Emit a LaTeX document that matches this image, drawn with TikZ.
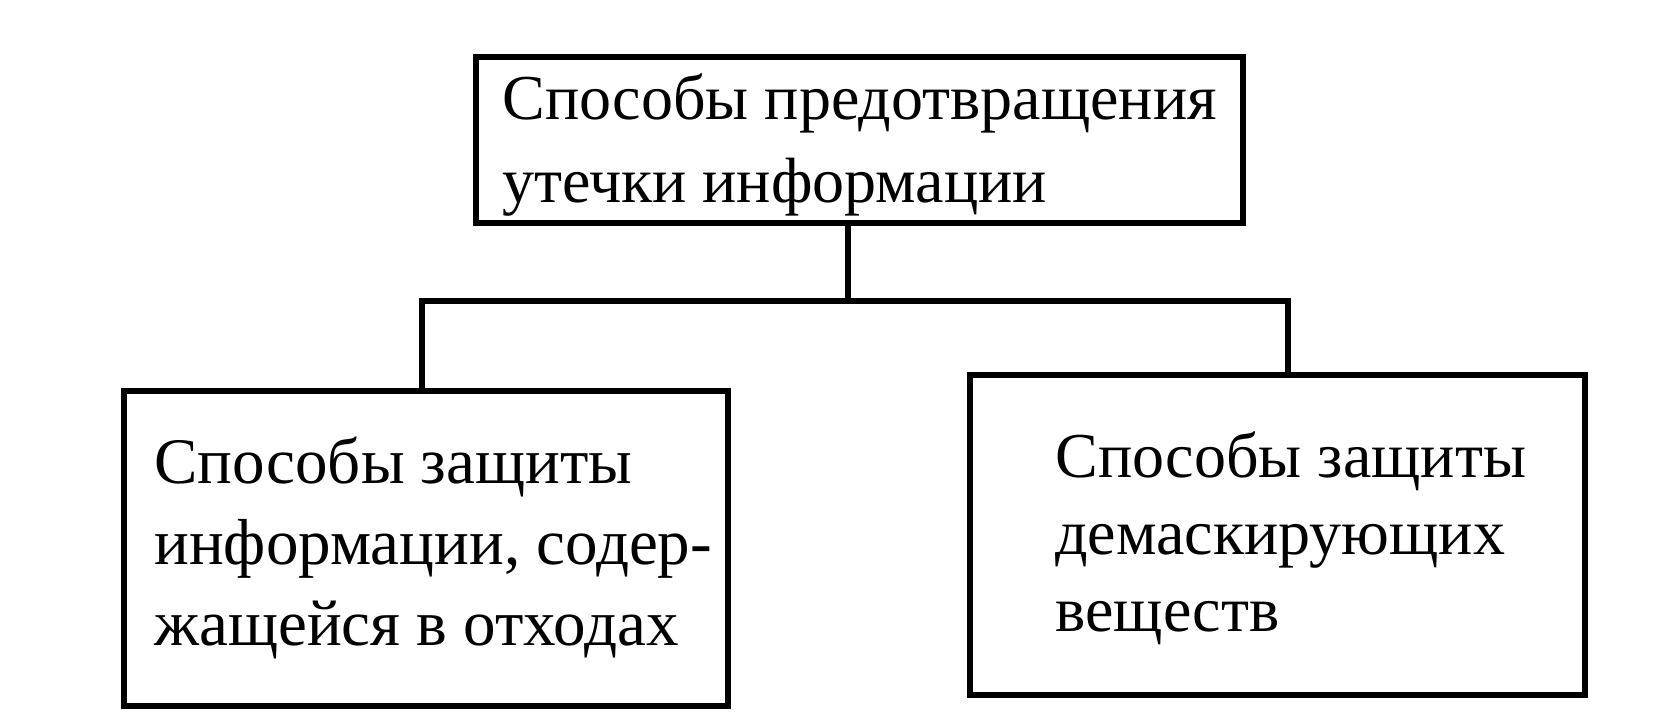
\documentclass[tikz,border=0pt]{standalone}
\usepackage{fontspec}
\setmainfont{Liberation Serif}
\begin{document}
\begin{tikzpicture}[x=0.5pt,y=-0.5pt,
  box/.style={draw, line width=2.6pt, inner sep=0pt, line join=miter},
  txt/.style={inner sep=0pt, align=left, anchor=base west},
  conn/.style={line width=2.6pt, line join=miter}]
\useasboundingbox[fill=white] (0,0) rectangle (1679,724);
% boxes
\node[box, minimum width=383.5pt, minimum height=83pt] (top) at (859.5,140) {};
\node[box, minimum width=302pt, minimum height=157.5pt] (left) at (426,548.5) {};
\node[box, minimum width=307.5pt, minimum height=160pt] (right) at (1277.5,535) {};
% texts (anchored at the baseline of the last line)
\node[txt, font=\fontsize{32pt}{41.5pt}\selectfont] (ttop) at (502,202)
  {Способы предотвращения\\утечки информации};
\node[txt, font=\fontsize{32.5pt}{40.5pt}\selectfont] (tleft) at (154,645)
  {Способы защиты\\информации, содер-\\жащейся в отходах};
\node[txt, font=\fontsize{32pt}{38.5pt}\selectfont] (tright) at (1055,631)
  {Способы защиты\\демаскирующих\\веществ};
% connectors
\coordinate (j) at (848,301);
\coordinate (jl) at (422,301);
\coordinate (jr) at (1288,301);
\draw[conn] (top.south -| j) -- (j);
\draw[conn] (left.north -| jl) -- (jl) -- (jr) -- (right.north -| jr);
\end{tikzpicture}
\end{document}
